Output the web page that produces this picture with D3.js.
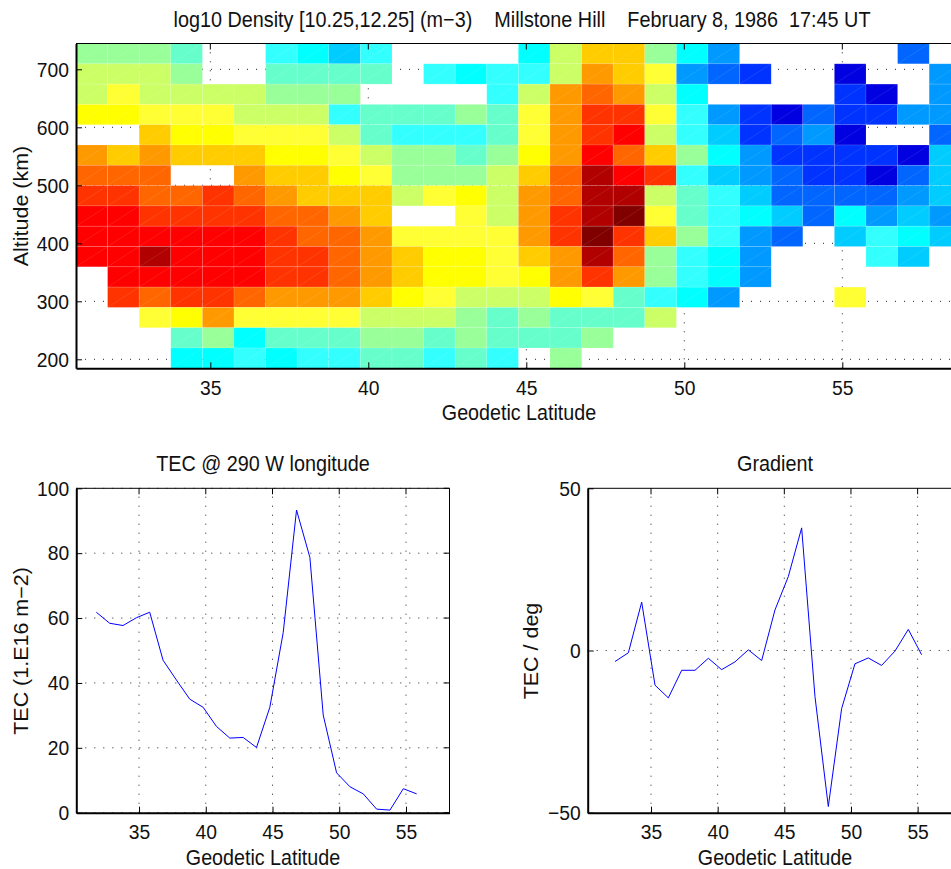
<!DOCTYPE html>
<html lang="en">
<head>
<meta charset="utf-8">
<title>Millstone Hill density and TEC</title>
<script src="https://d3js.org/d3.v7.min.js"></script>
<style>
  html, body { margin: 0; padding: 0; background: #fff; overflow: hidden; }
  svg { display: block; }
  text { font-family: "Liberation Sans", Arial, sans-serif; fill: #111; white-space: pre; }
  .tick-label { font-size: 19.3px; }
  .axis-title { font-size: 19.7px; }
  .plot-title { font-size: 19.8px; }
</style>
</head>
<body>
<script>
// latitude / altitude centres of the density cells
var cellLats = [31.25,32.25,33.25,34.25,35.25,36.25,37.25,38.25,39.25,40.25,41.25,42.25,43.25,44.25,45.25,46.25,47.25,48.25,49.25,50.25,51.25,52.25,53.25,54.25,55.25,56.25,57.25,58.25];
var cellAlts = [727,692,657,622,587,552,517,482,447,412,377,342,307,272,237,202];

// log10 density, one row per altitude, null = no data
var row727 = [11.14,11.14,11.14,11.04,null,null,10.93,10.83,10.72,10.93,null,null,null,null,10.83,11.25,11.56,11.56,11.14,10.83,10.62,null,null,null,null,null,10.51,null];
var row692 = [11.25,11.25,11.25,11.14,null,null,11.04,11.04,11.04,11.04,null,10.93,10.83,10.93,10.93,11.25,11.67,11.56,11.35,10.62,10.51,10.41,null,null,10.30,null,null,10.62];
var row657 = [11.25,11.35,11.25,11.25,11.25,11.25,11.14,11.14,11.14,null,null,null,null,10.93,11.25,11.67,11.77,11.67,11.25,10.83,null,null,null,null,10.41,10.30,null,10.62];
var row622 = [11.46,11.46,11.35,11.35,11.35,11.25,11.25,11.25,10.93,11.04,11.04,11.04,11.14,11.04,11.35,11.67,11.88,11.88,11.35,10.93,10.62,10.41,10.30,10.51,10.41,10.41,10.62,10.62];
var row587 = [null,null,11.56,11.46,11.46,11.35,11.35,11.35,11.25,11.04,10.93,10.93,10.93,11.04,11.35,11.67,11.88,11.98,11.25,10.93,10.72,10.41,10.51,10.62,10.30,null,null,10.51];
var row552 = [11.67,11.56,11.67,11.56,11.56,11.56,11.46,11.46,11.35,11.25,11.14,11.14,11.04,11.14,11.46,11.67,11.98,11.77,11.56,11.14,10.83,10.62,10.41,10.41,10.41,10.41,10.30,10.72];
var row517 = [11.77,11.77,11.77,null,null,11.67,11.56,11.56,11.46,11.35,11.14,11.14,11.14,11.25,11.56,11.77,12.09,11.98,11.88,10.93,10.72,10.62,10.51,10.41,10.41,10.30,10.51,10.72];
var row482 = [11.88,11.88,11.77,11.77,11.88,11.77,11.67,11.56,11.56,11.56,11.25,11.35,11.46,11.25,11.67,11.77,12.09,12.09,11.25,11.04,10.93,10.72,10.51,10.51,10.51,10.51,10.62,10.72];
var row447 = [11.98,11.98,11.88,11.88,11.88,11.88,11.77,11.77,11.67,11.56,null,null,11.35,11.25,11.67,11.88,12.09,12.20,11.35,11.04,10.93,10.83,10.72,10.51,10.83,10.62,10.72,10.62];
var row412 = [11.98,11.98,11.98,11.98,11.98,11.98,11.88,11.77,11.77,11.67,11.35,11.35,11.35,11.35,11.67,11.88,12.20,11.88,11.56,11.14,10.93,10.62,10.51,null,10.72,10.93,10.83,10.72];
var row377 = [11.98,11.98,12.09,11.98,11.98,11.98,11.88,11.88,11.77,11.67,11.56,11.46,11.46,11.35,11.56,11.67,12.09,11.77,11.14,10.93,10.83,10.62,null,null,null,10.93,10.72,null];
var row342 = [null,11.98,11.98,11.98,11.98,11.98,11.88,11.88,11.77,11.67,11.56,11.46,11.46,11.35,11.46,11.67,11.88,11.67,11.14,10.93,10.83,10.62,null,null,null,null,null,null];
var row307 = [null,11.88,11.77,11.88,11.88,11.77,11.67,11.67,11.67,11.56,11.46,11.35,11.25,11.25,11.25,11.46,11.35,11.04,10.93,10.83,10.62,null,null,null,11.35,null,null,null];
var row272 = [null,null,11.35,11.46,11.67,11.35,11.35,11.35,11.35,11.25,11.25,11.25,11.14,11.04,11.14,11.04,11.04,11.04,11.25,null,null,null,null,null,null,null,null,null];
var row237 = [null,null,null,11.04,11.14,10.83,11.04,11.04,11.04,11.14,11.14,11.04,11.14,11.04,11.04,11.04,11.14,null,null,null,null,null,null,null,null,null,null,null];
var row202 = [null,null,null,10.83,10.83,10.93,10.83,10.93,10.93,11.04,11.04,10.93,11.04,10.93,null,11.14,null,null,null,null,null,null,null,null,null,null,null,null];

var jetColors = ["#0000e0","#0033ff","#0066ff","#0099ff","#00ccff","#00ffff","#33ffff","#66ffcc","#99ff99","#ccff66","#ffff33","#ffff00","#ffcc00","#ff9900","#ff6600","#ff3300","#ff0000","#b00000","#800000"];

// total electron content
var tecLats = [31.8,32.8,33.8,34.8,35.8,36.8,37.8,38.8,39.8,40.8,41.8,42.8,43.8,44.8,45.8,46.8,47.8,48.8,49.8,50.8,51.8,52.8,53.8,54.8,55.8];
var tecVals = [61.8,58.4,57.7,60.1,61.8,47,40.9,35,32.5,26.6,23,23.2,20.1,32.5,55.5,93.3,78.7,30.1,12.3,8,5.8,1.1,0.8,7.4,5.8];

// gradient of TEC
var gradLats = [32.3,33.3,34.3,35.3,36.3,37.3,38.3,39.3,40.3,41.3,42.3,43.3,44.3,45.3,46.3,47.3,48.3,49.3,50.3,51.3,52.3,53.3,54.3,55.3];
var gradVals = [-3.4,-0.7,14.9,-10.7,-14.6,-6.1,-6.1,-2.4,-5.9,-3.5,0.2,-3.1,12.5,22.8,37.8,-14.2,-48.1,-17.9,-4.1,-2.3,-4.6,-0.2,6.5,-1.3];

var latTicks = [35,40,45,50,55];
var altTicks = [200,300,400,500,600,700];
var tecTicks = [0,20,40,60,80,100];
var gradTicks = [-50,0,50];

var densityRows = [row727,row692,row657,row622,row587,row552,row517,row482,row447,row412,row377,row342,row307,row272,row237,row202];

var w = 951;
var h = 869;
// the picture is a little stretched vertically, text too
var stretch = 1.09;

var svg = d3.select("body").append("svg").attr("width", w).attr("height", h);

var minus = function(d) { return String(d).replace("-", "\u2212"); };

// dotted grid of one panel
function drawGrid(x, y, xTicks, gridY) {
	var g = svg.append("g");
	var x0 = x.range()[0], x1 = x.range()[1];
	var y0 = y.range()[0], y1 = y.range()[1];

	g.selectAll(".gx").data(xTicks).enter().append("line")
		.attr("x1", x).attr("x2", x).attr("y1", y0).attr("y2", y1)
		.attr("stroke", "#222").attr("stroke-width", 1).attr("stroke-dasharray", "1,8");
	g.selectAll(".gy").data(gridY).enter().append("line")
		.attr("x1", x0).attr("x2", x1).attr("y1", y).attr("y2", y)
		.attr("stroke", "#222").attr("stroke-width", 1).attr("stroke-dasharray", "1,8");
}

// frame, inward ticks and labels
function drawAxes(x, y, xTicks, yTicks) {
	var x0 = x.range()[0], x1 = x.range()[1];
	var y0 = y.range()[0], y1 = y.range()[1];

	var xAxis = d3.axisBottom(x).tickValues(xTicks).tickSizeInner(-6).tickSizeOuter(0).tickPadding(20);
	var yAxis = d3.axisLeft(y).tickValues(yTicks).tickFormat(minus).tickSizeInner(-6).tickSizeOuter(0).tickPadding(7);

	var gx = svg.append("g").attr("transform", "translate(0," + y0 + ")").call(xAxis);
	var gy = svg.append("g").attr("transform", "translate(" + x0 + ",0)").call(yAxis);
	gx.selectAll("text").attr("dy", "0.32em");
	[gx, gy].forEach(function(a) {
		a.attr("font-family", null).attr("font-size", null);
		a.selectAll("line").attr("stroke", "#000");
		a.select(".domain").attr("stroke", "#000").attr("stroke-width", 2);
		a.selectAll("text").attr("class", "tick-label").attr("fill", null)
			.each(function() {
				var t = d3.select(this);
				t.attr("transform", "translate(" + (+t.attr("x") || 0) + "," + (+t.attr("y") || 0) + ") scale(1," + stretch + ")")
					.attr("x", 0).attr("y", 0);
			});
	});

	// top edge and top ticks
	svg.append("line").attr("x1", x0).attr("x2", x1).attr("y1", y1).attr("y2", y1).attr("stroke", "#000");
	svg.selectAll(null).data(xTicks).enter().append("line")
		.attr("x1", x).attr("x2", x).attr("y1", y1).attr("y2", y1 + 6).attr("stroke", "#000");
	// right edge when it is on the page
	if (x1 < w) {
		svg.append("line").attr("x1", x1).attr("x2", x1).attr("y1", y0).attr("y2", y1).attr("stroke", "#000");
		svg.selectAll(null).data(yTicks).enter().append("line")
			.attr("x1", x1 - 6).attr("x2", x1).attr("y1", y).attr("y2", y).attr("stroke", "#000");
	}
}

function label(txt, cx, cy, cls, rotate) {
	svg.append("text").attr("class", cls).attr("text-anchor", "middle")
		.attr("transform", "translate(" + cx + "," + cy + ")" + (rotate ? " rotate(-90) scale(" + stretch + ",1)" : " scale(1," + stretch + ")"))
		.text(txt);
}

//    Density panel
var xDen = d3.scaleLinear().domain([30.75, 59]).range([76, 968.7]);
var yDen = d3.scaleLinear().domain([184.5, 744.5]).range([368.3, 43.5]);
var color = d3.scaleQuantize().domain([10.25, 12.25]).range(jetColors);

drawGrid(xDen, yDen, latTicks, altTicks);

var cells = [];
densityRows.forEach(function(row, i) {
	row.forEach(function(v, j) {
		if (v !== null) cells.push({lat: cellLats[j], alt: cellAlts[i], v: v});
	});
});

var cell = svg.append("g").selectAll("g").data(cells).enter().append("g");
cell.append("rect")
	.attr("x", function(d) { return xDen(d.lat - 0.5); })
	.attr("y", function(d) { return yDen(d.alt + 17.5); })
	.attr("width", function(d) { return xDen(d.lat + 0.5) - xDen(d.lat - 0.5); })
	.attr("height", function(d) { return yDen(d.alt - 17.5) - yDen(d.alt + 17.5); })
	.attr("fill", function(d) { return color(d.v); })
	.attr("stroke", "#fff").attr("stroke-opacity", 0.15).attr("stroke-width", 0.8);
cell.append("line")
	.attr("x1", function(d) { return xDen(d.lat - 0.5); })
	.attr("y1", function(d) { return yDen(d.alt - 17.5); })
	.attr("x2", function(d) { return xDen(d.lat + 0.5); })
	.attr("y2", function(d) { return yDen(d.alt + 17.5); })
	.attr("stroke", "#fff").attr("stroke-opacity", 0.14).attr("stroke-width", 0.7);

drawAxes(xDen, yDen, latTicks, altTicks);
label("log10 Density [10.25,12.25] (m\u22123)    Millstone Hill    February 8, 1986  17:45 UT", 522, 27, "plot-title");
label("Geodetic Latitude", 519, 420, "axis-title");
label("Altitude (km)", 28, 206, "axis-title", true);

//    TEC panel
var xTec = d3.scaleLinear().domain([30.3, 58.26]).range([76.3, 449.5]);
var yTec = d3.scaleLinear().domain([0, 100]).range([812.7, 488.3]);
drawGrid(xTec, yTec, latTicks, tecTicks);
svg.append("path").datum(d3.zip(tecLats, tecVals))
	.attr("fill", "none").attr("stroke", "#0000ff").attr("stroke-width", 1)
	.attr("d", d3.line().x(function(d) { return xTec(d[0]); }).y(function(d) { return yTec(d[1]); }));
drawAxes(xTec, yTec, latTicks, tecTicks);
label("TEC @ 290 W longitude", 263, 471, "plot-title");
label("Geodetic Latitude", 263, 865, "axis-title");
label("TEC (1.E16 m\u22122)", 28, 651, "axis-title", true);

//    Gradient panel
var xGrad = d3.scaleLinear().domain([30.25, 58.9]).range([587.7, 969.6]);
var yGrad = d3.scaleLinear().domain([-50, 50]).range([812.7, 488.3]);
drawGrid(xGrad, yGrad, latTicks, [0]);
svg.append("path").datum(d3.zip(gradLats, gradVals))
	.attr("fill", "none").attr("stroke", "#0000ff").attr("stroke-width", 1)
	.attr("d", d3.line().x(function(d) { return xGrad(d[0]); }).y(function(d) { return yGrad(d[1]); }));
drawAxes(xGrad, yGrad, latTicks, gradTicks);
label("Gradient", 775, 471, "plot-title");
label("Geodetic Latitude", 775, 865, "axis-title");
label("TEC / deg", 538, 651, "axis-title", true);
</script>
</body>
</html>
